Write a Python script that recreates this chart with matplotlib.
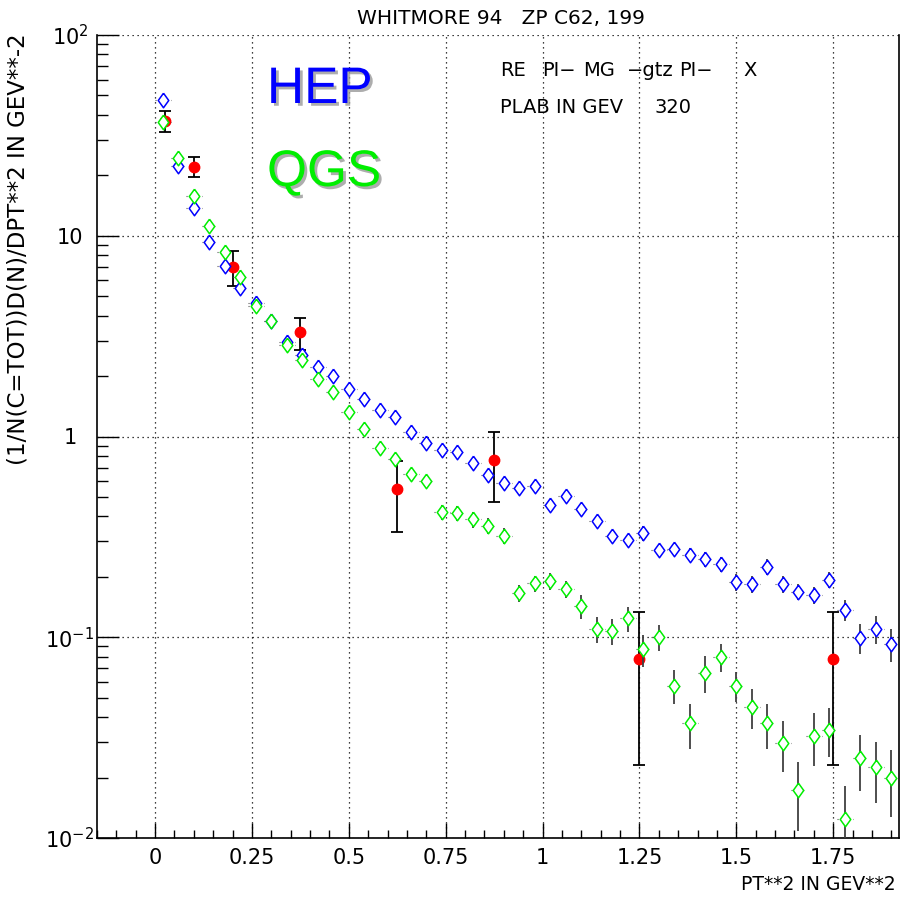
import numpy as np
import matplotlib
matplotlib.use("Agg")
import matplotlib.pyplot as plt
import matplotlib.patheffects as pe
from matplotlib.ticker import FixedLocator, MultipleLocator, LogLocator, NullFormatter

# bin centres (width 0.04 in PT**2)
pt2 = np.arange(48) * 0.04 + 0.02

hep = [47.3, 22.2, 13.7, 9.3, 7.05, 5.5, 4.6, 3.76, 2.96, 2.55, 2.22, 2.0,
       1.72, 1.53, 1.36, 1.25, 1.05, 0.93, 0.86, 0.84, 0.74, 0.64, 0.585,
       0.556, 0.567, 0.456, 0.506, 0.434, 0.38, 0.321, 0.305, 0.33, 0.272,
       0.274, 0.258, 0.245, 0.231, 0.188, 0.184, 0.224, 0.184, 0.169, 0.162,
       0.193, 0.137, 0.0996, 0.11, 0.0925]
hep_err = [0.5, 0.3, 0.2, 0.15, 0.12, 0.1, 0.08, 0.07, 0.06, 0.05, 0.05, 0.045,
           0.04, 0.04, 0.035, 0.035, 0.03, 0.03, 0.03, 0.03, 0.028, 0.026, 0.025,
           0.025, 0.025, 0.024, 0.025, 0.024, 0.023, 0.022, 0.022, 0.027, 0.021,
           0.021, 0.02, 0.02, 0.02, 0.018, 0.018, 0.02, 0.018, 0.016, 0.016,
           0.018, 0.016, 0.017, 0.017, 0.017]

qgs = [37.0, 24.3, 15.8, 11.2, 8.3, 6.2, 4.45, 3.75, 2.85, 2.40, 1.93, 1.67,
       1.32, 1.09, 0.88, 0.77, 0.648, 0.60, 0.419, 0.414, 0.387, 0.36, 0.32,
       0.166, 0.186, 0.19, 0.174, 0.143, 0.11, 0.107, 0.124, 0.087, 0.10,
       0.0574, 0.0372, 0.0667, 0.080, 0.0574, 0.0451, 0.0372, 0.0298, 0.0173,
       0.0323, 0.0347, 0.01245, 0.0249, 0.0225, 0.020]
qgs_err = [0.8, 0.6, 0.4, 0.3, 0.25, 0.2, 0.15, 0.13, 0.11, 0.1, 0.09, 0.08,
           0.07, 0.06, 0.05, 0.05, 0.045, 0.045, 0.035, 0.035, 0.035, 0.033, 0.03,
           0.016, 0.017, 0.018, 0.017, 0.02, 0.016, 0.016, 0.018, 0.016, 0.015,
           0.011, 0.0095, 0.014, 0.013, 0.01, 0.01, 0.0095, 0.0085, 0.0065,
           0.0095, 0.0095, 0.0058, 0.0078, 0.0075, 0.0073]

# experimental points (WHITMORE 94)
exp_x = [0.025, 0.1, 0.2, 0.375, 0.625, 0.875, 1.25, 1.75]
exp_y = [37.4, 22.1, 7.0, 3.3, 0.546, 0.764, 0.078, 0.078]
exp_err = [4.5, 2.5, 1.4, 0.6, 0.21, 0.29, 0.055, 0.055]

xtick_vals = [0, 0.25, 0.5, 0.75, 1, 1.25, 1.5, 1.75]
xtick_text = ["0", "0.25", "0.5", "0.75", "1", "1.25", "1.5", "1.75"]
ytick_vals = [0.01, 0.1, 1, 10, 100]
ytick_text = ["$10^{-2}$", "$10^{-1}$", "1", "10", "$10^{2}$"]

W, H = 901, 898
fig = plt.figure(figsize=(W / 100, H / 100), dpi=100)
ax = fig.add_axes([97 / W, 1 - 838 / H, (899 - 97) / W, (838 - 35) / H])

diamond = [(0, 1), (0.72, 0), (0, -1), (-0.72, 0), (0, 1)]

# experiment
ax.errorbar(exp_x, exp_y, yerr=exp_err, fmt="o", color="red", ms=7.5,
            ecolor="black", elinewidth=1.3, capsize=4.5, capthick=1.3,
            zorder=3)

# models, x-bin width shown as dotted lines
for vals, errs, col in [(hep, hep_err, "blue"), (qgs, qgs_err, "#00ee00")]:
    ax.hlines(vals, pt2 - 0.02, pt2 + 0.02, colors="0.35",
              linestyles=(0, (1, 2.5)), linewidth=0.8, zorder=4)
    ax.errorbar(pt2, vals, yerr=errs, fmt="none", ecolor="0.25",
                elinewidth=1.3, zorder=4)
    ax.plot(pt2, vals, marker=diamond, ls="none", ms=10.5, mfc="white",
            mec=col, mew=1.1, zorder=5)

ax.set_yscale("log")
ax.set_xlim(-0.15, 1.92)
ax.set_ylim(0.01, 100)

ax.set_xticks(xtick_vals)
ax.set_xticklabels(xtick_text)
ax.xaxis.set_minor_locator(MultipleLocator(0.05))

ax.yaxis.set_major_locator(FixedLocator(ytick_vals))
ax.yaxis.set_minor_locator(LogLocator(base=10, subs=np.arange(2, 10)))
ax.yaxis.set_minor_formatter(NullFormatter())
ax.set_yticklabels(ytick_text)
for lab in ax.get_yticklabels():
    lab.set_horizontalalignment("center")

ax.tick_params(axis="x", which="major", direction="in", length=11,
               width=1, labelsize=15, pad=7, top=False)
ax.tick_params(axis="x", which="minor", direction="in", length=6,
               width=1, top=False)
ax.tick_params(axis="y", which="major", direction="in", length=16,
               width=1, labelsize=15, pad=19.5, right=False)
ax.tick_params(axis="y", which="minor", direction="in", length=8,
               width=1, right=False)

ax.grid(which="major", color="black", linestyle=(0, (1, 3)), linewidth=0.9)
ax.set_axisbelow(True)
ax.spines["top"].set_visible(False)
for s in ["left", "bottom", "right"]:
    ax.spines[s].set_linewidth(1.2)

# titles and labels
fig.text(501 / W, 1 - 19 / H, "WHITMORE 94   ZP C62, 199", ha="center",
         va="center", fontsize=14.5)
fig.text(896 / W, 1 - 885 / H, "PT**2 IN GEV**2", ha="right", va="center",
         fontsize=13.5)
fig.text(18 / W, 1 - 33 / H, "(1/N(C=TOT))D(N)/DPT**2 IN GEV**-2",
         rotation=90, ha="center", va="top", fontsize=16.5)

# reaction text, word by word
words = [("RE", 500), ("PI\u2212", 542), ("MG", 583), ("\u2212gtz", 627),
         ("PI\u2212", 679), ("X", 743)]
for w, xp in words:
    fig.text(xp / W, 1 - 76 / H, w, ha="left", va="baseline", fontsize=14)
fig.text(500 / W, 1 - 113 / H, "PLAB IN GEV", ha="left", va="baseline",
         fontsize=14)
fig.text(655 / W, 1 - 113 / H, "320", ha="left", va="baseline", fontsize=14)

shadow = [pe.SimplePatchShadow(offset=(2, -2), shadow_rgbFace="0.6",
                               alpha=0.8), pe.Normal()]
fig.text(267 / W, 1 - 103 / H, "HEP", color="blue", fontsize=37,
         family="Liberation Sans", va="baseline", path_effects=shadow)
fig.text(267 / W, 1 - 186 / H, "QGS", color="#00ee00", fontsize=37,
         family="Liberation Sans", va="baseline", path_effects=shadow)

plt.savefig("out.png", dpi=100)
